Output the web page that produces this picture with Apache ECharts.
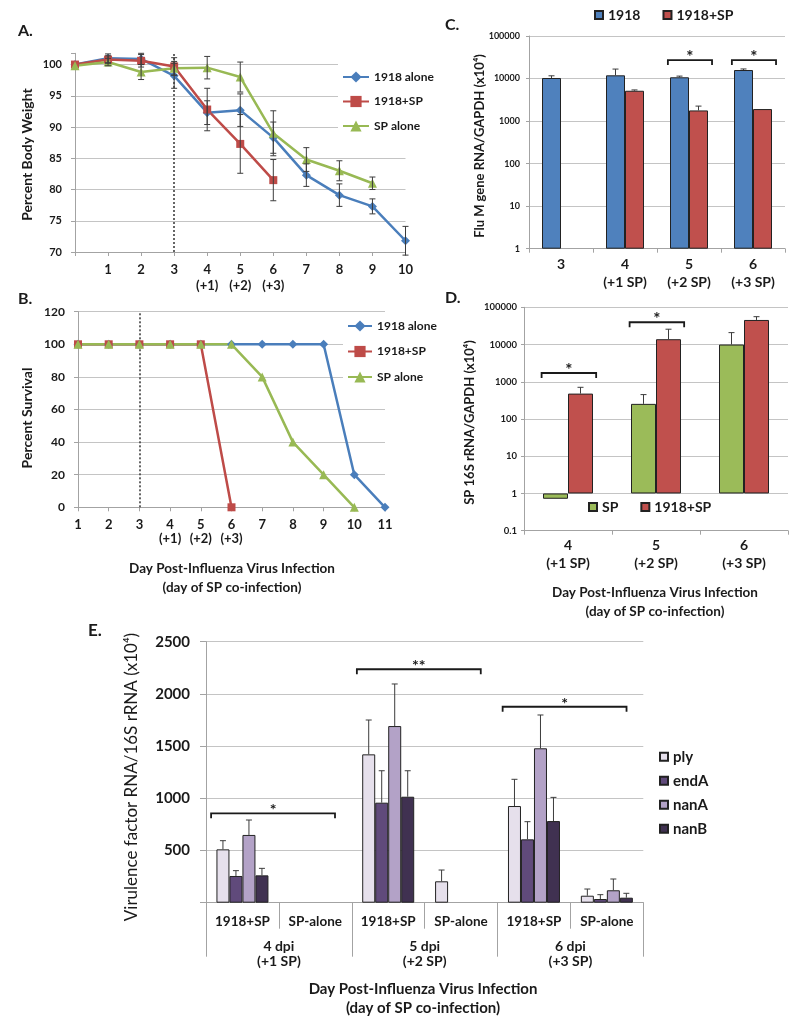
<!DOCTYPE html>
<html><head><meta charset="utf-8">
<script src="https://cdn.jsdelivr.net/npm/echarts@6.0.0/dist/echarts.min.js"></script>
<style>html,body{margin:0;padding:0;background:#fff}#c{width:800px;height:1026px}</style>
</head><body><div id="c"></div><script>
// ---------- Panel A: percent body weight ----------
const daysA = [0,1,2,3,4,5,6,7,8,9,10];
const tickLabelsA = ['', '1','2','3','4\n(+1)','5\n(+2)','6\n(+3)','7','8','9','10'];
const weight1918 = [100, 101.0, 100.9, 98.2, 92.3, 92.7, 88.3, 82.3, 79.1, 77.3, 71.8];
const weight1918Err = [0, 0.7, 0.9, 2.0, 1.9, 2.6, 2.5, 1.8, 1.8, 1.2, 2.3];
const weight1918SP = [100, 100.8, 100.6, 99.7, 92.8, 87.3, 81.5];
const weight1918SPErr = [0, 0.6, 1.0, 1.4, 3.4, 4.7, 3.3];
const weightSPalone = [99.8, 100.4, 98.8, 99.4, 99.5, 98.0, 89.0, 84.8, 83.0, 81.0];
const weightSPaloneErr = [0, 0.6, 1.2, 1.1, 1.8, 2.4, 3.6, 1.9, 1.6, 1.0];
// ---------- Panel B: percent survival ----------
const daysB = [1,2,3,4,5,6,7,8,9,10,11];
const tickLabelsB = ['1','2','3','4\n(+1)','5\n(+2)','6\n(+3)','7','8','9','10','11'];
const surv1918 = [100,100,100,100,100,100,100,100,100,20,0];
const surv1918SP = [100,100,100,100,100,0];
const survSPalone = [100,100,100,100,100,100,80,40,20,0];
// ---------- Panel C: Flu M gene RNA ----------
const catsC = ['3','4\n(+1 SP)','5\n(+2 SP)','6\n(+3 SP)'];
const flu1918 = [10300, 11900, 10700, 15850];
const flu1918Err = [1300, 4800, 700, 950];
const flu1918SP = [null, 5160, 1780, 1915];
const flu1918SPErr = [0, 240, 470, 0];
const bracketsC = [[2, 27200, 2], [3, 27200, 3]];
const bracketLabelsC = ['*', '*'];
// ---------- Panel D: SP 16S rRNA ----------
const catsD = ['4\n(+1 SP)','5\n(+2 SP)','6\n(+3 SP)'];
const spSP = [0.72, 255, 10000];
const spSPErr = [0, 197, 10900];
const sp1918SP = [481, 13900, 45700];
const sp1918SPErr = [229, 11900, 10300];
const bracketsD = [[0, 1718, 0], [1, 39700, 1]];
const bracketLabelsD = ['*', '*'];
// ---------- Panel E: virulence factors ----------
const subcatsE = ['1918+SP','SP-alone','1918+SP','SP-alone','1918+SP','SP-alone'];
const groupsE = ['4 dpi\n(+1 SP)','5 dpi\n(+2 SP)','6 dpi\n(+3 SP)'];
const genesE = ['ply','endA','nanA','nanB'];
const ply  = [511, null, 1421, 205, 926, 67];
const plyErr  = [83, 0, 329, 108, 256, 64];
const endA = [256, null, 958, null, 607, 35];
const endAErr = [51, 0, 306, 0, 169, 42];
const nanA = [649, null, 1692, null, 1479, 119];
const nanAErr = [143, 0, 403, 0, 319, 108];
const nanB = [262, null, 1015, null, 782, 48];
const nanBErr = [67, 0, 249, 0, 227, 42];
const bracketsE = [[0, 856, 1], [2, 2236, 3], [4, 1877, 5]];
const bracketLabelsE = ['*', '**', '*'];

// ---------- styling ----------
const FONT = 'Lato, "Open Sans", sans-serif';
const TXT = '#1a1a1a';
const GRID_C = '#C4C4C4';
const AXIS_C = '#A3A3A3';
const ERR_C = '#3c3c3c';
const BLUE = '#4A7EBB', RED = '#BE4B48', GREEN = '#98B954';
const BAR_BLUE = '#4F81BD', BAR_RED = '#C0504D', BAR_GREEN = '#9BBB59';
const E_COLORS = ['#E6E0EC', '#604A7B', '#B3A2C7', '#403151'];
const BORDER = '#222';

const xy = (xs, ys) => ys.map((v, i) => [xs[i], v]);
const errPts = (xs, ys, es) => ys.map((v, i) => [xs[i], v, es[i]]).filter(p => p[1] != null && p[2] > 0);
const idx = arr => arr.map((_, i) => i);

function errorSeries(xi, yi, pts, offset, both, cap) {
  return {
    type: 'custom', xAxisIndex: xi, yAxisIndex: yi, z: 6, silent: true, data: pts,
    renderItem: function (params, api) {
      const x = api.value(0), y = api.value(1), e = api.value(2);
      const base = api.coord([x, y]);
      const top = api.coord([x, y + e]);
      const bot = both ? api.coord([x, y - e]) : base;
      const cx = base[0] + offset;
      const st = {stroke: ERR_C, lineWidth: 1};
      const ch = [
        {type: 'line', shape: {x1: cx, y1: bot[1], x2: cx, y2: top[1]}, style: st},
        {type: 'line', shape: {x1: cx - cap, y1: top[1], x2: cx + cap, y2: top[1]}, style: st}
      ];
      if (both) ch.push({type: 'line', shape: {x1: cx - cap, y1: bot[1], x2: cx + cap, y2: bot[1]}, style: st});
      return {type: 'group', children: ch};
    }
  };
}

function bracketSeries(xi, yi, items, labels, lf, rf, fs) {
  return {
    type: 'custom', xAxisIndex: xi, yAxisIndex: yi, z: 7, silent: true, data: items,
    renderItem: function (params, api) {
      const from = api.value(0), lvl = api.value(1), to = api.value(2);
      const p1 = api.coord([from, lvl]), p2 = api.coord([to, lvl]);
      const band = api.coord([1, lvl])[0] - api.coord([0, lvl])[0];
      const xl = p1[0] - band * lf, xr = p2[0] + band * rf, y = p1[1];
      return {type: 'group', children: [
        {type: 'polyline', shape: {points: [[xl, y + 5], [xl, y], [xr, y], [xr, y + 5]]},
         style: {stroke: TXT, lineWidth: 1.8, fill: null}},
        {type: 'text', x: (xl + xr) / 2, y: y - 3,
         style: {text: labels[params.dataIndex], fill: TXT, fontSize: fs, fontWeight: 'bold',
                 fontFamily: FONT, align: 'center', verticalAlign: 'middle'}}
      ]};
    }
  };
}

const axisLineSt = {show: true, lineStyle: {color: AXIS_C, width: 1}};
const tickSt = (len) => ({show: true, length: len, lineStyle: {color: AXIS_C}});
const lbl = (size, extra) => Object.assign({color: TXT, fontSize: size, fontWeight: 'bold', fontFamily: FONT}, extra || {});
const logFmt = v => String(+Number(v).toPrecision(6));

const markLine3 = {
  silent: true, symbol: ['none', 'none'], label: {show: false},
  lineStyle: {type: [2, 2], color: '#333', width: 1.5}, data: [{xAxis: 3}], z: 1
};

const series = [
  // A lines
  {type: 'line', name: 'A|1918 alone', xAxisIndex: 0, yAxisIndex: 0, data: xy(daysA, weight1918),
   symbol: 'diamond', symbolSize: 9, lineStyle: {width: 2.5, color: BLUE}, itemStyle: {color: BLUE}, markLine: markLine3},
  {type: 'line', name: 'A|1918+SP', xAxisIndex: 0, yAxisIndex: 0, data: xy(daysA, weight1918SP),
   symbol: 'rect', symbolSize: 8, lineStyle: {width: 2.5, color: RED}, itemStyle: {color: RED}},
  {type: 'line', name: 'A|SP alone', xAxisIndex: 0, yAxisIndex: 0, data: xy(daysA, weightSPalone),
   symbol: 'triangle', symbolSize: 9, lineStyle: {width: 2.5, color: GREEN}, itemStyle: {color: GREEN}},
  errorSeries(0, 0, errPts(daysA, weight1918, weight1918Err), 0, true, 3),
  errorSeries(0, 0, errPts(daysA, weight1918SP, weight1918SPErr), 0, true, 3),
  errorSeries(0, 0, errPts(daysA, weightSPalone, weightSPaloneErr), 0, true, 3),
  // B lines
  {type: 'line', name: 'B|1918 alone', xAxisIndex: 1, yAxisIndex: 1, data: xy(daysB, surv1918),
   symbol: 'diamond', symbolSize: 9, lineStyle: {width: 2.5, color: BLUE}, itemStyle: {color: BLUE}, markLine: markLine3},
  {type: 'line', name: 'B|1918+SP', xAxisIndex: 1, yAxisIndex: 1, data: xy(daysB, surv1918SP),
   symbol: 'rect', symbolSize: 8, lineStyle: {width: 2.5, color: RED}, itemStyle: {color: RED}},
  {type: 'line', name: 'B|SP alone', xAxisIndex: 1, yAxisIndex: 1, data: xy(daysB, survSPalone),
   symbol: 'triangle', symbolSize: 9, lineStyle: {width: 2.5, color: GREEN}, itemStyle: {color: GREEN}},
  // C bars
  {type: 'bar', name: 'C|1918', xAxisIndex: 2, yAxisIndex: 2, data: flu1918, barWidth: 19, barGap: '0%',
   itemStyle: {color: BAR_BLUE, borderColor: BORDER, borderWidth: 1}},
  {type: 'bar', name: 'C|1918+SP', xAxisIndex: 2, yAxisIndex: 2, data: flu1918SP, barWidth: 19, barGap: '0%',
   itemStyle: {color: BAR_RED, borderColor: BORDER, borderWidth: 1}},
  errorSeries(2, 2, errPts(idx(catsC), flu1918, flu1918Err), -9.5, false, 3),
  errorSeries(2, 2, errPts(idx(catsC), flu1918SP, flu1918SPErr), 9.5, false, 3),
  bracketSeries(2, 2, bracketsC, bracketLabelsC, 0.33, 0.36, 17),
  // D bars
  {type: 'bar', name: 'D|SP', xAxisIndex: 3, yAxisIndex: 3, data: spSP, barWidth: 25, barGap: '0%',
   itemStyle: {color: BAR_GREEN, borderColor: BORDER, borderWidth: 1}},
  {type: 'bar', name: 'D|1918+SP', xAxisIndex: 3, yAxisIndex: 3, data: sp1918SP, barWidth: 25, barGap: '0%',
   itemStyle: {color: BAR_RED, borderColor: BORDER, borderWidth: 1}},
  errorSeries(3, 3, errPts(idx(catsD), spSP, spSPErr), -12.5, false, 3),
  errorSeries(3, 3, errPts(idx(catsD), sp1918SP, sp1918SPErr), 12.5, false, 3),
  bracketSeries(3, 3, bracketsD, bracketLabelsD, 0.3, 0.32, 17)
];
// E bars
const eData = [ply, endA, nanA, nanB];
const eErr = [plyErr, endAErr, nanAErr, nanBErr];
genesE.forEach((g, k) => {
  series.push({type: 'bar', name: 'E|' + g, xAxisIndex: 4, yAxisIndex: 4, data: eData[k], barWidth: 13, barGap: '0%',
    itemStyle: {color: E_COLORS[k], borderColor: BORDER, borderWidth: 1}});
});
genesE.forEach((g, k) => {
  series.push(errorSeries(4, 4, errPts(idx(subcatsE), eData[k], eErr[k]), (k - 1.5) * 13, false, 3));
});
series.push(bracketSeries(4, 4, bracketsE, bracketLabelsE, 0.43, 0.27, 16));

const texts = [
  {t: 'A.', x: 18, y: 31, s: 16, w: 'bold', a: 'left'},
  {t: 'B.', x: 18, y: 299, s: 16, w: 'bold', a: 'left'},
  {t: 'C.', x: 445, y: 25, s: 16, w: 'bold', a: 'left'},
  {t: 'D.', x: 445, y: 298, s: 16, w: 'bold', a: 'left'},
  {t: 'E.', x: 88, y: 631, s: 17, w: 'bold', a: 'left'},
  {t: 'Percent Body Weight', x: 27, y: 154.5, s: 14, w: 'bold', a: 'center', r: true},
  {t: 'Percent Survival', x: 27, y: 418, s: 14, w: 'bold', a: 'center', r: true},
  {t: 'Flu M gene RNA/GAPDH (x10\u2074)', x: 480, y: 146, s: 13, w: 'bold', a: 'center', r: true},
  {t: 'SP 16S rRNA/GAPDH (x10\u2074)', x: 470, y: 422.5, s: 13, w: 'bold', a: 'center', r: true},
  {t: 'Virulence factor RNA/16S rRNA (x10\u2074)', x: 132, y: 777, s: 17, w: 'normal', a: 'center', r: true},
  {t: 'Day Post-Influenza Virus Infection', x: 232, y: 569, s: 13.5, w: 'bold', a: 'center'},
  {t: '(day of SP co-infection)', x: 232, y: 588, s: 13.5, w: 'bold', a: 'center'},
  {t: 'Day Post-Influenza Virus Infection', x: 655, y: 593, s: 13.5, w: 'bold', a: 'center'},
  {t: '(day of SP co-infection)', x: 655, y: 612, s: 13.5, w: 'bold', a: 'center'},
  {t: 'Day Post-Influenza Virus Infection', x: 423, y: 989, s: 15, w: 'bold', a: 'center'},
  {t: '(day of SP co-infection)', x: 423, y: 1008, s: 15, w: 'bold', a: 'center'}
];
const graphic = texts.map(o => ({
  type: 'text', x: o.x, y: o.y, rotation: o.r ? Math.PI / 2 : 0, silent: true,
  style: {text: o.t, fill: TXT, fontSize: o.s, fontWeight: o.w, fontFamily: FONT, align: o.a, verticalAlign: 'middle'}
}));

const strip = n => n.split('|')[1];
const option = {
  animation: false,
  backgroundColor: '#fff',
  textStyle: {fontFamily: FONT},
  graphic: graphic,
  grid: [
    {left: 75, right: 394.5, top: 53.3, bottom: 774},
    {left: 78, right: 415, top: 311.7, bottom: 518.7},
    {left: 529, right: 15, top: 36, bottom: 777.3},
    {left: 524, right: 12, top: 307.3, bottom: 495.3},
    {left: 206, right: 156.7, top: 641.7, bottom: 123.3}
  ],
  xAxis: [
    {gridIndex: 0, type: 'value', min: 0, max: 10, interval: 1, splitLine: {show: false},
     axisLine: axisLineSt, axisTick: tickSt(4),
     axisLabel: lbl(13, {formatter: v => tickLabelsA[v] || '', margin: 10, lineHeight: 16})},
    {gridIndex: 1, type: 'value', min: 1, max: 11, interval: 1, splitLine: {show: false},
     axisLine: axisLineSt, axisTick: tickSt(4),
     axisLabel: lbl(13, {formatter: v => tickLabelsB[v - 1] || '', margin: 11, lineHeight: 14})},
    {gridIndex: 2, type: 'category', data: catsC, axisLine: axisLineSt, axisTick: tickSt(4),
     axisLabel: lbl(14, {interval: 0, margin: 7.5, lineHeight: 17.5})},
    {gridIndex: 3, type: 'category', data: catsD, axisLine: axisLineSt, axisTick: tickSt(4),
     axisLabel: lbl(14, {interval: 0, margin: 5.5, lineHeight: 18})},
    {gridIndex: 4, type: 'category', position: 'bottom', data: subcatsE, axisLine: axisLineSt, axisTick: tickSt(26),
     axisLabel: lbl(13.5, {interval: 0, margin: 11, lineHeight: 16})},
    {gridIndex: 4, type: 'category', position: 'bottom', data: groupsE, axisLine: {show: false}, axisTick: tickSt(54),
     axisLabel: lbl(14, {interval: 0, margin: 36.5, lineHeight: 15})}
  ],
  yAxis: [
    {gridIndex: 0, type: 'value', min: 70, max: 101.8, interval: 5,
     splitLine: {showMaxLine: false, lineStyle: {color: [GRID_C, GRID_C, GRID_C, GRID_C, GRID_C, GRID_C, GRID_C, 'rgba(0,0,0,0)']}},
     axisLine: axisLineSt, axisTick: tickSt(4),
     axisLabel: lbl(11, {formatter: v => (v % 5 === 0 ? String(v) : ''), margin: 13})},
    {gridIndex: 1, type: 'value', min: 0, max: 120, interval: 20,
     splitLine: {lineStyle: {color: GRID_C}}, axisLine: axisLineSt, axisTick: tickSt(4),
     axisLabel: lbl(12, {margin: 13})},
    {gridIndex: 2, type: 'log', logBase: 10, min: 1, max: 100000,
     splitLine: {lineStyle: {color: GRID_C}}, axisLine: axisLineSt, axisTick: tickSt(3),
     axisLabel: lbl(9, {formatter: logFmt, margin: 9})},
    {gridIndex: 3, type: 'log', logBase: 10, min: 0.1, max: 100000,
     splitLine: {lineStyle: {color: GRID_C}}, axisLine: axisLineSt, axisTick: tickSt(3),
     axisLabel: lbl(9.5, {formatter: logFmt, margin: 7})},
    {gridIndex: 4, type: 'value', min: 0, max: 2500, interval: 500,
     splitLine: {lineStyle: {color: GRID_C}}, axisLine: axisLineSt, axisTick: tickSt(6),
     axisLabel: lbl(15, {formatter: v => (v === 0 ? '' : String(v)), margin: 16})}
  ],
  legend: [
    {orient: 'vertical', left: 338, top: 62, padding: [8, 6, 8, 4], itemGap: 10.5, itemWidth: 26, itemHeight: 14,
     backgroundColor: '#fff', data: ['A|1918 alone', 'A|1918+SP', 'A|SP alone'], formatter: strip,
     textStyle: lbl(12, {lineHeight: 14}), selectedMode: false},
    {orient: 'vertical', left: 343, top: 316, padding: [3, 6, 6, 4], itemGap: 11.5, itemWidth: 24, itemHeight: 14,
     backgroundColor: '#fff', data: ['B|1918 alone', 'B|1918+SP', 'B|SP alone'], formatter: strip,
     textStyle: lbl(12, {lineHeight: 14}), selectedMode: false},
    {orient: 'horizontal', left: 594, top: 7, padding: 0, itemGap: 22, itemWidth: 8, itemHeight: 8, icon: 'rect',
     data: ['C|1918', 'C|1918+SP'], formatter: strip, textStyle: lbl(14, {lineHeight: 16}), selectedMode: false},
    {orient: 'horizontal', left: 588, top: 499, padding: 0, itemGap: 22, itemWidth: 8, itemHeight: 8, icon: 'rect',
     data: ['D|SP', 'D|1918+SP'], formatter: strip, textStyle: lbl(14, {lineHeight: 16}), selectedMode: false},
    {orient: 'vertical', left: 659, top: 748.7, padding: 0, itemGap: 8, itemWidth: 8, itemHeight: 8, icon: 'rect',
     data: genesE.map(g => 'E|' + g), formatter: strip, textStyle: lbl(15, {lineHeight: 16}), selectedMode: false}
  ],
  series: series
};
const chart = echarts.init(document.getElementById('c'));
chart.setOption(option);
</script></body></html>
